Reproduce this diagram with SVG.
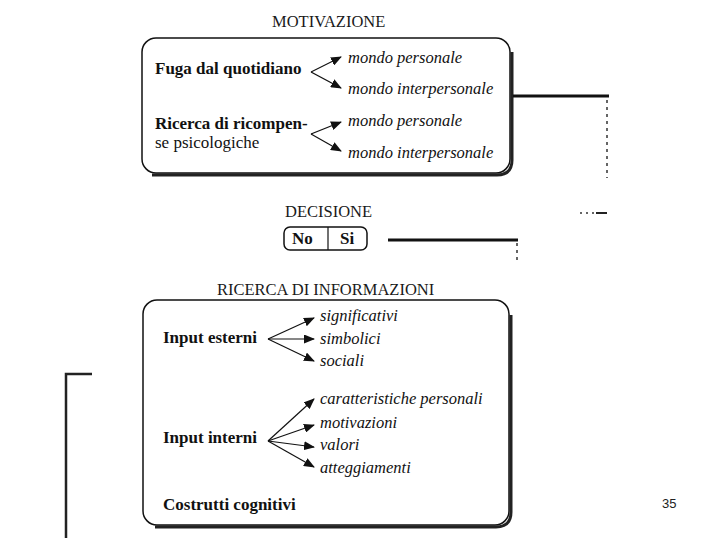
<svg xmlns="http://www.w3.org/2000/svg" width="720" height="540" viewBox="0 0 720 540">
<defs>
<marker id="ah" markerWidth="11" markerHeight="9" refX="10" refY="4.5" orient="auto" markerUnits="userSpaceOnUse">
<path d="M0,0 L11,4.5 L0,9 Z" fill="#111"/>
</marker>
<style>
.title{font-family:"Liberation Serif","Times New Roman",serif;font-size:16.5px;fill:#1a1a1a}
.lbl{font-family:"Liberation Serif","Times New Roman",serif;font-size:17px;font-weight:bold;fill:#111}
.reg{font-family:"Liberation Serif","Times New Roman",serif;font-size:17px;fill:#111}
.it{font-family:"Liberation Serif","Times New Roman",serif;font-size:16.5px;font-style:italic;fill:#111}
.box{fill:#fff;stroke:#111;stroke-width:1.5}
.shadow{fill:none;stroke:#222;stroke-width:3}
.arr{stroke:#111;stroke-width:1.2;fill:none;marker-end:url(#ah)}
.thick{stroke:#111;stroke-width:3;fill:none}
.dot{stroke:#333;stroke-width:1.5;stroke-dasharray:3 4;fill:none}
</style>
</defs>
<rect width="720" height="540" fill="#fff"/>

<g id="motivazione">
<text class="title" x="272" y="27">MOTIVAZIONE</text>
<path class="shadow" d="M512,52 L512,160 Q512,175 497,175 L152,175"/>
<rect class="box" x="142" y="38" width="368" height="135" rx="14"/>
<text class="lbl" x="155" y="74">Fuga dal quotidiano</text>
<text class="it" x="348" y="63">mondo personale</text>
<text class="it" x="348" y="94">mondo interpersonale</text>
<text class="lbl" x="155" y="129">Ricerca di ricompen-</text>
<text class="reg" x="155" y="148">se psicologiche</text>
<text class="it" x="348" y="126">mondo personale</text>
<text class="it" x="348" y="158">mondo interpersonale</text>
</g>

<g id="decisione">
<text class="title" x="285" y="217">DECISIONE</text>
<rect class="box" x="284" y="227" width="83" height="23" rx="6"/>
<line x1="328" y1="227" x2="328" y2="250" stroke="#111" stroke-width="1.2"/>
<text class="lbl" x="292" y="244">No</text>
<text class="lbl" x="340" y="244">Si</text>
</g>

<g id="ricerca">
<text class="title" x="217" y="295">RICERCA DI INFORMAZIONI</text>
<path class="shadow" d="M511,315 L511,512 Q511,527 496,527 L155,527"/>
<rect class="box" x="143" y="300" width="366" height="225" rx="14"/>
<text class="lbl" x="163" y="343">Input esterni</text>
<text class="it" x="320" y="321">significativi</text>
<text class="it" x="320" y="344">simbolici</text>
<text class="it" x="320" y="366">sociali</text>
<text class="lbl" x="163" y="443">Input interni</text>
<text class="it" x="320" y="404">caratteristiche personali</text>
<text class="it" x="320" y="428">motivazioni</text>
<text class="it" x="320" y="450">valori</text>
<text class="it" x="320" y="473">atteggiamenti</text>
<text class="lbl" x="163" y="510">Costrutti cognitivi</text>
</g>

<g id="connectors">
<line class="arr" x1="311" y1="72" x2="341" y2="57"/>
<line class="arr" x1="311" y1="72" x2="341" y2="88"/>
<line class="arr" x1="311" y1="134" x2="341" y2="122"/>
<line class="arr" x1="311" y1="134" x2="341" y2="151"/>
<line class="arr" x1="268" y1="339" x2="314" y2="318"/>
<line class="arr" x1="268" y1="339" x2="314" y2="339"/>
<line class="arr" x1="268" y1="339" x2="314" y2="361"/>
<line class="arr" x1="268" y1="441" x2="314" y2="399"/>
<line class="arr" x1="268" y1="441" x2="314" y2="425"/>
<line class="arr" x1="268" y1="441" x2="314" y2="447"/>
<line class="arr" x1="268" y1="441" x2="314" y2="467"/>
<line class="thick" x1="513" y1="96" x2="609" y2="96"/>
<line class="dot" x1="607" y1="100" x2="607" y2="178"/>
<line stroke="#333" stroke-width="1.5" stroke-dasharray="2 4" x1="580" y1="213" x2="595" y2="213"/>
<line stroke="#222" stroke-width="2" x1="596" y1="213" x2="607" y2="213"/>
<line class="thick" x1="388" y1="240" x2="518" y2="240"/>
<line class="dot" x1="517" y1="243" x2="517" y2="264"/>
<path stroke="#222" stroke-width="2.5" fill="none" d="M92,374 L66,374 L66,538"/>
</g>

<text x="662" y="508" font-family="Liberation Sans, Arial, sans-serif" font-size="13" fill="#222">35</text>
</svg>
